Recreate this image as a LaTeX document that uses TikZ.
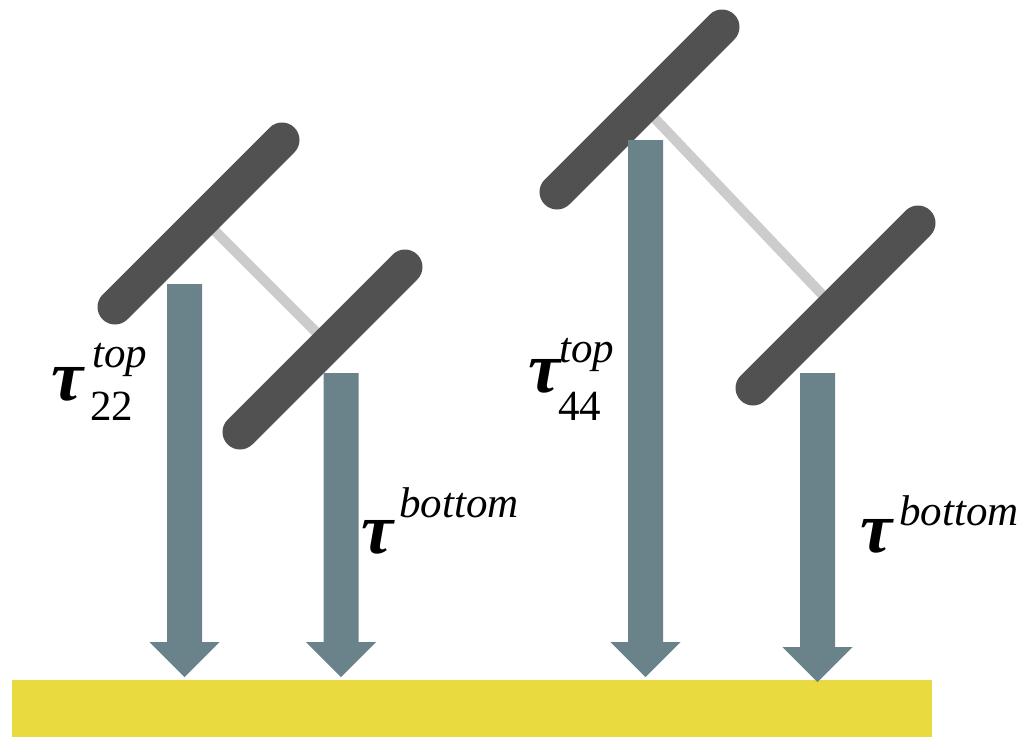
\documentclass[tikz,border=0pt]{standalone}
\usepackage{fontspec}
\setmainfont{Liberation Serif}
\definecolor{plate}{HTML}{515151}
\definecolor{link}{HTML}{CCCCCC}
\definecolor{arrowc}{HTML}{6A8289}
\definecolor{ground}{HTML}{E9DA3F}
\newcommand\fatarrow[4]{%
  \fill[arrowc] ({#1-17.5},#2) -- ({#1+17.5},#2) -- ({#1+17.5},#3) -- ({#1+35},#3)
    -- (#1,#4) -- ({#1-35},#3) -- ({#1-17.5},#3) -- cycle;}
\tikzset{
  platestyle/.style={draw=plate,line width=35pt,line cap=round},
  linkstyle/.style={draw=link,line width=10pt},
  taustyle/.style={inner sep=0pt,anchor=base west,font=\fontsize{72}{72}\selectfont\bfseries\itshape},
  supstyle/.style={inner sep=0pt,anchor=base west,font=\fontsize{43}{43}\selectfont\itshape},
  substyle/.style={inner sep=0pt,anchor=base west,font=\fontsize{43}{43}\selectfont},
}
\begin{document}
\begin{tikzpicture}[x=1pt,y=-1pt]
\useasboundingbox (0,0) rectangle (1019,737);
% ground
\fill[ground] (12,680) rectangle (932,737);
% plate coordinates
\coordinate (p1a) at (115,307); \coordinate (p1b) at (282,140);
\coordinate (p2a) at (240,432); \coordinate (p2b) at (405,267);
\coordinate (p3a) at (557,192); \coordinate (p3b) at (722,27);
\coordinate (p4a) at (753,388); \coordinate (p4b) at (918,223);
\coordinate (c1a) at (203,219); \coordinate (c1b) at (328,344);
\coordinate (c2a) at (643,106); \coordinate (c2b) at (834,307);
% links
\draw[linkstyle] (c1a) -- (c1b);
\draw[linkstyle] (c2a) -- (c2b);
% plates
\draw[platestyle] (p1a) -- (p1b);
\draw[platestyle] (p2a) -- (p2b);
\draw[platestyle] (p3a) -- (p3b);
\draw[platestyle] (p4a) -- (p4b);
% arrows
\fatarrow{184.5}{284}{642}{677}
\fatarrow{341}{373}{642}{677}
\fatarrow{645.5}{140}{642}{677}
\fatarrow{817.5}{373}{647}{682}
% labels
\node[taustyle] (t1) at (51,400) {τ};
\node[supstyle] (t1s) at (92,367) {top};
\node[substyle] (t1b) at (90,420) {22};
\node[taustyle] (t2) at (361,553) {τ};
\node[supstyle] (t2s) at (399,517) {bottom};
\node[taustyle] (t3) at (528,392) {τ};
\node[supstyle] (t3s) at (559,362) {top};
\node[substyle] (t3b) at (558,420) {44};
\node[taustyle] (t4) at (860,552) {τ};
\node[supstyle] (t4s) at (899,525) {bottom};
\end{tikzpicture}
\end{document}
